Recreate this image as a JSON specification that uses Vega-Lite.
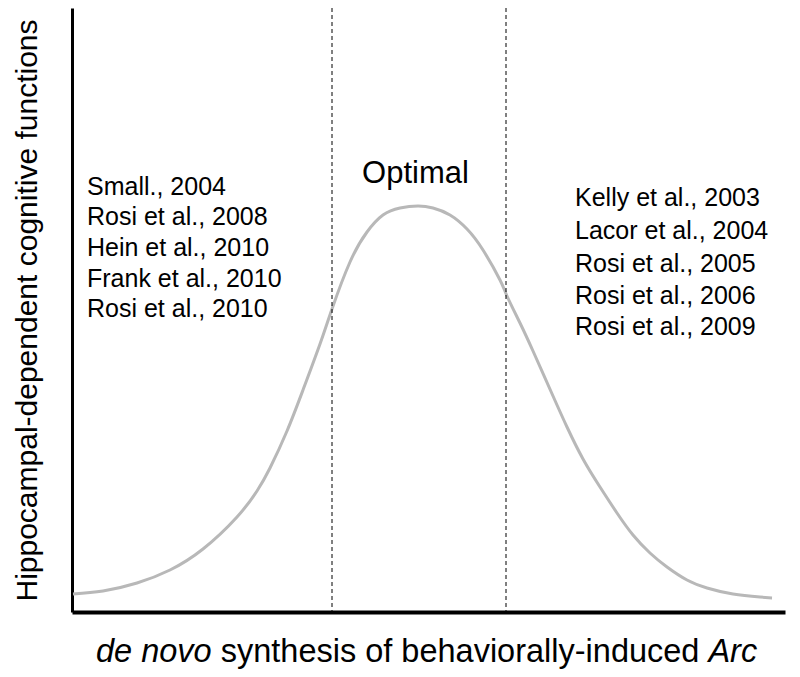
{
  "$schema": "https://vega.github.io/schema/vega-lite/v6.json",
  "width": 713,
  "height": 604,
  "autosize": {"type": "none"},
  "padding": {"left": 72, "top": 8, "right": 15, "bottom": 65},
  "background": "white",
  "config": {"view": {"stroke": null}, "font": "Liberation Sans"},
  "datasets": {
    "curve": [
      {"x": 73, "y": 18}, {"x": 103, "y": 21}, {"x": 137, "y": 29}, {"x": 170, "y": 42},
      {"x": 203, "y": 63}, {"x": 237, "y": 95}, {"x": 257, "y": 121}, {"x": 270, "y": 144},
      {"x": 287, "y": 181}, {"x": 303, "y": 222}, {"x": 320, "y": 268}, {"x": 332, "y": 303},
      {"x": 350, "y": 350}, {"x": 367, "y": 380}, {"x": 383, "y": 397}, {"x": 400, "y": 404},
      {"x": 418, "y": 406}, {"x": 433, "y": 404}, {"x": 450, "y": 397}, {"x": 467, "y": 383},
      {"x": 483, "y": 362}, {"x": 500, "y": 332}, {"x": 507, "y": 316}, {"x": 520, "y": 289},
      {"x": 533, "y": 261}, {"x": 553, "y": 216}, {"x": 567, "y": 185}, {"x": 583, "y": 153},
      {"x": 600, "y": 125}, {"x": 617, "y": 99}, {"x": 633, "y": 77}, {"x": 650, "y": 59},
      {"x": 667, "y": 45}, {"x": 687, "y": 32}, {"x": 707, "y": 24}, {"x": 733, "y": 18},
      {"x": 760, "y": 15}, {"x": 772, "y": 14}
    ],
    "bounds": [{"x": 332}, {"x": 506}],
    "refs": [
      {"text": "Small., 2004", "x": 87, "y": 417},
      {"text": "Rosi et al., 2008", "x": 87, "y": 387},
      {"text": "Hein et al., 2010", "x": 87, "y": 356},
      {"text": "Frank et al., 2010", "x": 87, "y": 325},
      {"text": "Rosi et al., 2010", "x": 87, "y": 295},
      {"text": "Kelly et al., 2003", "x": 575, "y": 406},
      {"text": "Lacor et al., 2004", "x": 575, "y": 373},
      {"text": "Rosi et al., 2005", "x": 575, "y": 340},
      {"text": "Rosi et al., 2006", "x": 575, "y": 308},
      {"text": "Rosi et al., 2009", "x": 575, "y": 277}
    ],
    "optimal": [{"text": "Optimal", "x": 415.5, "y": 429}],
    "xtitle": [
      {"text": "de novo", "x": 96, "y": -50, "italic": true},
      {"text": "synthesis of behaviorally-induced", "x": 220.7, "y": -50, "italic": false},
      {"text": "Arc", "x": 708.4, "y": -50, "italic": true}
    ]
  },
  "layer": [
    {
      "data": {"name": "curve"},
      "mark": {"type": "line", "interpolate": "natural", "color": "#b8b8b8", "strokeWidth": 3},
      "encoding": {
        "x": {
          "field": "x", "type": "quantitative",
          "scale": {"domain": [72, 785], "nice": false, "zero": false},
          "axis": {"title": null, "ticks": false, "labels": false, "grid": false, "domainColor": "black", "domainWidth": 4}
        },
        "y": {
          "field": "y", "type": "quantitative",
          "scale": {"domain": [0, 604], "nice": false, "zero": false},
          "axis": {
            "title": "Hippocampal-dependent cognitive functions",
            "titleFontSize": 30, "titleFontWeight": "normal", "titleColor": "black",
            "titleFont": "Liberation Sans", "titlePadding": 30,
            "ticks": false, "labels": false, "grid": false,
            "domainColor": "black", "domainWidth": 3
          }
        }
      }
    },
    {
      "data": {"name": "bounds"},
      "mark": {"type": "rule", "color": "#000000", "strokeWidth": 1, "strokeDash": [4, 3]},
      "encoding": {"x": {"field": "x", "type": "quantitative"}}
    },
    {
      "data": {"name": "refs"},
      "mark": {"type": "text", "align": "left", "baseline": "alphabetic", "fontSize": 25, "color": "black"},
      "encoding": {
        "x": {"field": "x", "type": "quantitative"},
        "y": {"field": "y", "type": "quantitative"},
        "text": {"field": "text"}
      }
    },
    {
      "data": {"name": "optimal"},
      "mark": {"type": "text", "align": "center", "baseline": "alphabetic", "fontSize": 31, "color": "black"},
      "encoding": {
        "x": {"field": "x", "type": "quantitative"},
        "y": {"field": "y", "type": "quantitative"},
        "text": {"field": "text"}
      }
    },
    {
      "data": {"name": "xtitle"},
      "transform": [{"filter": "datum.italic"}],
      "mark": {"type": "text", "align": "left", "baseline": "alphabetic", "fontSize": 32.5, "fontStyle": "italic", "color": "black"},
      "encoding": {
        "x": {"field": "x", "type": "quantitative"},
        "y": {"field": "y", "type": "quantitative"},
        "text": {"field": "text"}
      }
    },
    {
      "data": {"name": "xtitle"},
      "transform": [{"filter": "!datum.italic"}],
      "mark": {"type": "text", "align": "left", "baseline": "alphabetic", "fontSize": 32.5, "color": "black"},
      "encoding": {
        "x": {"field": "x", "type": "quantitative"},
        "y": {"field": "y", "type": "quantitative"},
        "text": {"field": "text"}
      }
    }
  ]
}
